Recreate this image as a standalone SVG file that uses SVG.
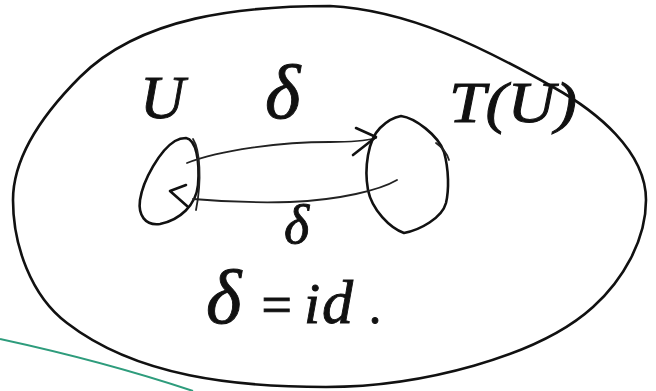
<svg xmlns="http://www.w3.org/2000/svg" width="656" height="391" viewBox="0 0 656 391">
<defs>
<style>
.ink{fill:none;stroke:#111;stroke-width:2.6;stroke-linecap:round;stroke-linejoin:round}
.thin{fill:none;stroke:#222;stroke-width:1.8;stroke-linecap:round;stroke-linejoin:round}
.lbl{font-family:"Liberation Serif",serif;font-style:italic;fill:#111;stroke:#111;stroke-width:0.9}
</style>
</defs>
<rect width="656" height="391" fill="#fff"/>
<path d="M0,339 C60,352 130,370 193,391" fill="none" stroke="#2e9c7c" stroke-width="2"/>
<g id="outer">
<path class="ink" d="M330,6 C409,10 484,48 553,87 C596,111 646,151 646,200 C646,240 623,280 593,307 C538,357 419,387 326,387 C237,387 137,377 67,323 C31,296 13,245 13,200 C13,153 47,110 80,77 C141,16 243,6 330,6 Z"/>
<text class="lbl" x="449" y="122" font-size="56" textLength="128" lengthAdjust="spacingAndGlyphs">T(U)</text>
</g>
<g id="U">
<path class="ink" d="M186,138 C196,140 200,160 198,185 C196,205 180,220 160,224 C145,226 138,215 140,200 C143,180 160,150 175,141 C180,138 183,138 186,138 Z"/>
<path class="thin" d="M193,139 C200,150 202,180 196,210"/>
<text class="lbl" x="140" y="118" font-size="62">U</text>
</g>
<g id="TU">
<path class="ink" d="M401,116 C415,118 438,135 444,152 C449,170 449,190 446,203 C442,218 420,230 404,233 C390,228 372,210 368,190 C364,168 368,140 380,128 C388,120 395,117 401,116 Z"/>
<path class="thin" d="M436,143 Q446,150 449,160"/>
</g>
<g id="connectors">
<path class="thin" d="M187,163 C220,150 280,142 330,142 C350,142 365,141 376,138"/>
<path class="ink" d="M356,128 L376,137 L353,155"/>
<path class="thin" d="M397,180 C380,190 340,200 290,202 C250,203 215,201 193,199"/>
<path class="ink" d="M186,185 L170,191 L187,206"/>
<text class="lbl" x="265" y="118" font-size="76">δ</text>
<text class="lbl" x="284" y="243" font-size="54">δ</text>
</g>
<g id="equation">
<text class="lbl" y="323"><tspan x="206" font-size="76">δ</tspan><tspan x="258" font-size="54">=</tspan><tspan x="304" font-size="58">i</tspan><tspan x="322" font-size="62">d</tspan><tspan x="370" font-size="50">.</tspan></text>
</g>
</svg>
